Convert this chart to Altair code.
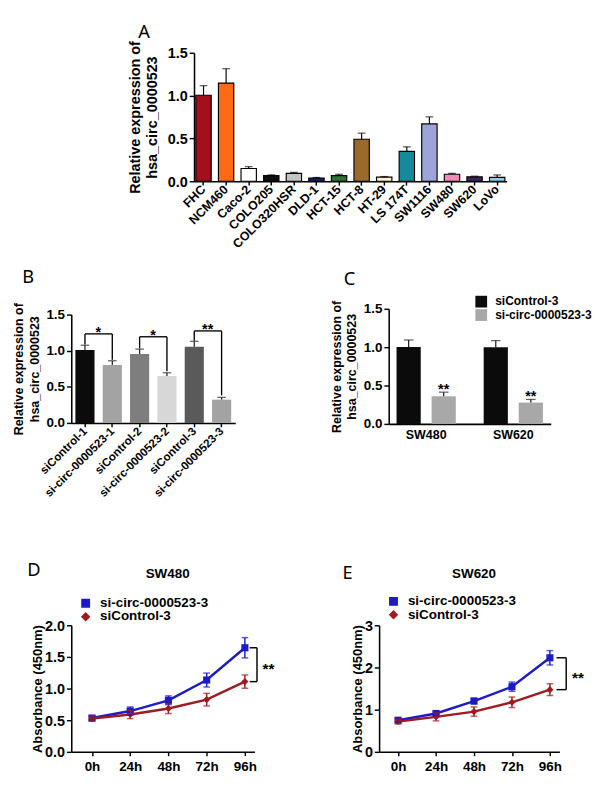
import altair as alt
import pandas as pd

FONT = "Liberation Sans"
LETTER_FONT = "Noto Sans"

# ---------------- Panel A ----------------
a_lines = ["FHC", "NCM460", "Caco-2", "COLO205", "COLO320HSR", "DLD-1", "HCT-15",
           "HCT-8", "HT-29", "LS 174T", "SW1116", "SW480", "SW620", "LoVo"]
a_mean = [1.005, 1.146, 0.149, 0.067, 0.093, 0.037, 0.067, 0.491, 0.048, 0.350, 0.670, 0.082, 0.052, 0.045]
a_err = [0.111, 0.168, 0.022, 0.008, 0.011, 0.008, 0.015, 0.071, 0.008, 0.052, 0.082, 0.011, 0.008, 0.029]
a_colors = ["#A30F1A", "#FF6A12", "#FFFFFF", "#0E0E0E", "#C4C4C4", "#1D1B6B", "#2F7434",
            "#9A6A2B", "#FFF2C4", "#168A9C", "#9EA3DA", "#F28BB8", "#3F2460", "#8DCDEB"]

# ---------------- Panel B ----------------
b_groups = ["siControl-1", "si-circ-0000523-1", "siControl-2", "si-circ-0000523-2",
            "siControl-3", "si-circ-0000523-3"]
b_mean = [1.009, 0.803, 0.955, 0.650, 1.054, 0.323]
b_err = [0.067, 0.058, 0.067, 0.045, 0.076, 0.031]
b_colors = ["#0B0B0B", "#A3A3A3", "#7E7E7E", "#D7D7D7", "#5A5A5A", "#A3A3A3"]
b_pair_left = ["siControl-1", "siControl-2", "siControl-3"]
b_pair_right = ["si-circ-0000523-1", "si-circ-0000523-2", "si-circ-0000523-3"]
b_bracket_level = [1.233, 1.193, 1.274]
b_bracket_left_end = [1.085, 1.031, 1.139]
b_bracket_right_end = [0.874, 0.717, 0.381]
b_marks = ["*", "*", "**"]

# ---------------- Panel C ----------------
c_lines = ["SW480", "SW620"]
c_groups = ["siControl-3", "si-circ-0000523-3"]
c_colors = ["#0B0B0B", "#A8A8A8"]
c_ctrl_mean = [1.003, 1.000]
c_ctrl_err = [0.091, 0.086]
c_si_mean = [0.360, 0.278]
c_si_err = [0.054, 0.041]
c_marks = ["**", "**"]

# ---------------- Panels D, E ----------------
times = [0, 24, 48, 72, 96]
series = ["si-circ-0000523-3", "siControl-3"]
series_colors = ["#1B1BC9", "#9E1B1E"]
series_shapes = ["square", "diamond"]
d_si_mean = [0.535, 0.645, 0.815, 1.135, 1.645]
d_si_err = [0.03, 0.065, 0.07, 0.11, 0.16]
d_ctrl_mean = [0.525, 0.59, 0.685, 0.825, 1.11]
d_ctrl_err = [0.04, 0.065, 0.08, 0.10, 0.105]
e_si_mean = [0.75, 0.91, 1.205, 1.545, 2.23]
e_si_err = [0.045, 0.05, 0.065, 0.11, 0.17]
e_ctrl_mean = [0.72, 0.83, 0.955, 1.175, 1.475]
e_ctrl_err = [0.06, 0.095, 0.11, 0.125, 0.14]

Y_TITLE = ["Relative expression of", "hsa_circ_0000523"]


def label_text(t, x, y, font=LETTER_FONT, size=19, weight="normal"):
    return alt.Chart(pd.DataFrame({"t": [t]})).mark_text(
        font=font, fontSize=size, fontWeight=weight, color="black",
        align="center", baseline="middle"
    ).encode(text="t:N", x=alt.value(x), y=alt.value(y))


def y_bar_axis(title_size, line_h, pad, label_size):
    return alt.Axis(values=[0, 0.5, 1, 1.5], format=".1f", title=Y_TITLE,
                    titleFontSize=title_size, titleLineHeight=line_h, labelFontSize=label_size,
                    tickSize=5, titlePadding=pad, labelOverlap=False)


def rot_axis(size):
    return alt.Axis(title=None, labelAngle=-45, labelAlign="right", labelBaseline="middle",
                    labelFontSize=size, tickSize=4, labelPadding=2, labelOverlap=False)


# ---------- A ----------
dfA = pd.DataFrame({"line": a_lines, "mean": a_mean,
                    "top": [m + e for m, e in zip(a_mean, a_err)], "color": a_colors})
xA_scale = alt.Scale(domain=a_lines, paddingInner=0.32, paddingOuter=0.08)
yA_scale = alt.Scale(domain=[0, 1.5], nice=False)
xA_axis = rot_axis(13)
yA_axis = y_bar_axis(15, 18, 8, 15)


def XA(f):
    return alt.X(f, scale=xA_scale, axis=xA_axis, title=None)


def YA(f):
    return alt.Y(f, scale=yA_scale, axis=yA_axis, title=Y_TITLE)


barsA = alt.Chart(dfA).mark_bar(stroke="black", strokeWidth=1.2).encode(
    x=XA("line:N"), y=YA("mean:Q"), color=alt.Color("color:N", scale=None))
errA = alt.Chart(dfA).mark_rule(color="black", strokeWidth=1.2).encode(
    x=XA("line:N"), y=YA("mean:Q"), y2="top:Q")
capA = alt.Chart(dfA).mark_tick(color="black", thickness=1.2, size=8, orient="horizontal").encode(
    x=XA("line:N"), y=YA("top:Q"))
panelA = alt.layer(barsA, errA, capA, label_text("A", -52, -21)).properties(width=326, height=134)

# ---------- B ----------
dfB = pd.DataFrame({"group": b_groups, "mean": b_mean,
                    "top": [m + e for m, e in zip(b_mean, b_err)], "color": b_colors})
xB_scale = alt.Scale(domain=b_groups, paddingInner=0.3, paddingOuter=0.15)
yB_scale = alt.Scale(domain=[0, 1.5], nice=False, range=[119, 6])
xB_axis = rot_axis(12)
yB_axis = y_bar_axis(13, 16, 5, 14)


def XB(f):
    return alt.X(f, scale=xB_scale, axis=xB_axis, title=None)


def YB(f):
    return alt.Y(f, scale=yB_scale, axis=yB_axis, title=Y_TITLE)


barsB = alt.Chart(dfB).mark_bar().encode(x=XB("group:N"), y=YB("mean:Q"),
                                         color=alt.Color("color:N", scale=None))
errB = alt.Chart(dfB).mark_rule(color="#222222", strokeWidth=1.3).encode(
    x=XB("group:N"), y=YB("mean:Q"), y2="top:Q")
capB = alt.Chart(dfB).mark_tick(color="#222222", thickness=1.3, size=9, orient="horizontal").encode(
    x=XB("group:N"), y=YB("top:Q"))
dfBr = pd.DataFrame({"left": b_pair_left, "right": b_pair_right, "level": b_bracket_level,
                     "lend": b_bracket_left_end, "rend": b_bracket_right_end, "mark": b_marks})
brH = alt.Chart(dfBr).mark_rule(color="black", strokeWidth=1.4).encode(
    x=XB("left:N"), x2="right:N", y=YB("level:Q"))
brL = alt.Chart(dfBr).mark_rule(color="black", strokeWidth=1.4).encode(
    x=XB("left:N"), y=YB("lend:Q"), y2="level:Q")
brR = alt.Chart(dfBr).mark_rule(color="black", strokeWidth=1.4).encode(
    x=XB("right:N"), y=YB("rend:Q"), y2="level:Q")
starB = alt.Chart(dfBr).mark_text(font=FONT, fontWeight="bold", fontSize=15, dx=14, dy=3,
                                  baseline="alphabetic", color="black").encode(
    x=XB("left:N"), y=YB("level:Q"), text="mark:N")
panelB = alt.layer(barsB, errB, capB, brH, brL, brR, starB, label_text("B", -45, -33)).properties(
    width=171, height=119)

# ---------- C ----------
dfC = pd.DataFrame({"line": c_lines * 2,
                    "group": [c_groups[0]] * 2 + [c_groups[1]] * 2,
                    "mean": c_ctrl_mean + c_si_mean,
                    "err": c_ctrl_err + c_si_err})
dfC["top"] = dfC["mean"] + dfC["err"]
dfC["mark"] = ["", ""] + c_marks
xC_scale = alt.Scale(domain=c_lines, paddingInner=0.32, paddingOuter=0.09)
yC_scale = alt.Scale(domain=[0, 1.5], nice=False)
xC_axis = alt.Axis(title=None, labelAngle=0, labelFontSize=13, ticks=False, labelPadding=5)
yC_axis = y_bar_axis(13, 16, 5, 14)


def XC(f):
    return alt.X(f, scale=xC_scale, axis=xC_axis, title=None)


def YC(f):
    return alt.Y(f, scale=yC_scale, axis=yC_axis, title=Y_TITLE)


xoC = alt.XOffset("group:N", scale=alt.Scale(domain=c_groups, paddingInner=0.31, paddingOuter=0))
colorC = alt.Color("group:N", scale=alt.Scale(domain=c_groups, range=c_colors),
                   legend=alt.Legend(title=None, orient="none", legendX=90, legendY=-14,
                                     symbolType="square", symbolSize=150, symbolStrokeWidth=0,
                                     labelFontSize=12.5, rowPadding=1, labelOffset=8))
barsC = alt.Chart(dfC).mark_bar().encode(x=XC("line:N"), xOffset=xoC, y=YC("mean:Q"), color=colorC)
errC = alt.Chart(dfC).mark_rule(color="#222222", strokeWidth=1.3).encode(
    x=XC("line:N"), xOffset=xoC, y=YC("mean:Q"), y2="top:Q")
capC = alt.Chart(dfC).mark_tick(color="#222222", thickness=1.3, size=10, orient="horizontal").encode(
    x=XC("line:N"), xOffset=xoC, y=YC("top:Q"))
starC = alt.Chart(dfC).mark_text(font=FONT, fontWeight="bold", fontSize=15, dy=2,
                                 baseline="alphabetic", color="black").encode(
    x=XC("line:N"), xOffset=xoC, y=YC("top:Q"), text="mark:N")
panelC = alt.layer(barsC, errC, capC, starC, label_text("C", -41, -31)).properties(
    width=169, height=120)


# ---------- D / E ----------
def growth(si_mean, si_err, ctrl_mean, ctrl_err, ymax, yvals, yfmt, xdomain, w, h,
           title, letter_t, letter_xy, bracket_x, star_x, legend_xy):
    df = pd.DataFrame({"time": times * 2,
                       "series": [series[0]] * 5 + [series[1]] * 5,
                       "mean": si_mean + ctrl_mean,
                       "err": si_err + ctrl_err})
    df["lo"] = df["mean"] - df["err"]
    df["hi"] = df["mean"] + df["err"]
    xs = alt.Scale(domain=xdomain, nice=False, zero=False)
    ys = alt.Scale(domain=[0, ymax], nice=False)
    x_axis = alt.Axis(values=times, labelExpr="datum.value + 'h'", labelFontSize=14,
                      tickSize=4, labelPadding=4, labelOverlap=False, title=None)
    y_axis = alt.Axis(values=yvals, format=yfmt, title="Absorbance (450nm)",
                      titleFontSize=13.5, labelFontSize=15, tickSize=5, titlePadding=0,
                      labelOverlap=False)

    def X(f):
        return alt.X(f, scale=xs, axis=x_axis, title=None)

    def Y(f):
        return alt.Y(f, scale=ys, axis=y_axis, title="Absorbance (450nm)")

    cscale = alt.Scale(domain=series, range=series_colors)
    leg = alt.Legend(title=None, orient="none", legendX=legend_xy[0], legendY=legend_xy[1],
                     labelFontSize=14, symbolSize=60, rowPadding=0, labelOffset=8)
    col_leg = alt.Color("series:N", scale=cscale, legend=leg)
    shp = alt.Shape("series:N", scale=alt.Scale(domain=series, range=series_shapes), legend=leg)
    strk = alt.Stroke("series:N", scale=cscale, legend=None)
    fll = alt.Fill("series:N", scale=cscale, legend=None)
    base = alt.Chart(df)
    pts = base.mark_point(filled=True, size=55, opacity=1).encode(
        x=X("time:Q"), y=Y("mean:Q"), color=col_leg, shape=shp)
    line = base.mark_line(strokeWidth=2.5).encode(x=X("time:Q"), y=Y("mean:Q"), stroke=strk)
    err = base.mark_rule(strokeWidth=1.5).encode(
        x=X("time:Q"), y=Y("lo:Q"), y2="hi:Q", stroke=strk)
    cap_hi = base.mark_tick(thickness=1.5, size=7, orient="horizontal").encode(
        x=X("time:Q"), y=Y("hi:Q"), fill=fll)
    cap_lo = base.mark_tick(thickness=1.5, size=7, orient="horizontal").encode(
        x=X("time:Q"), y=Y("lo:Q"), fill=fll)
    br = pd.DataFrame({"x1": [bracket_x[0]], "x2": [bracket_x[1]],
                       "top": [si_mean[-1]], "bot": [ctrl_mean[-1]],
                       "mid": [(si_mean[-1] + ctrl_mean[-1]) / 2],
                       "sx": [star_x], "mark": ["**"]})
    bb = alt.Chart(br)
    br_top = bb.mark_rule(color="black", strokeWidth=1.5).encode(
        x=X("x1:Q"), x2="x2:Q", y=Y("top:Q"))
    br_bot = bb.mark_rule(color="black", strokeWidth=1.5).encode(
        x=X("x1:Q"), x2="x2:Q", y=Y("bot:Q"))
    br_v = bb.mark_rule(color="black", strokeWidth=1.5).encode(
        x=X("x2:Q"), y=Y("bot:Q"), y2="top:Q")
    star = bb.mark_text(font=FONT, fontWeight="bold", fontSize=16, align="left",
                        baseline="middle", dy=5, color="black").encode(
        x=X("sx:Q"), y=Y("mid:Q"), text="mark:N")
    return alt.layer(pts, line, err, cap_hi, cap_lo, br_top, br_bot, br_v, star,
                     label_text(letter_t, letter_xy[0], letter_xy[1]),
                     label_text(title, w / 2 + 5, -53, font=FONT, size=14, weight="bold")
                     ).properties(width=w, height=h)


panelD = growth(d_si_mean, d_si_err, d_ctrl_mean, d_ctrl_err, 2, [0, 0.5, 1, 1.5, 2], ".1f",
                [-13, 102], 191, 132, "SW480", "D", (-39, -57), (99, 103.6), 107, (8, -30))
panelE = growth(e_si_mean, e_si_err, e_ctrl_mean, e_ctrl_err, 3, [0, 1, 2, 3], "d",
                [-12, 102], 188, 132, "SW620", "E", (-33, -54), (100.2, 106.3), 110, (8, -32))

spacer = alt.Chart(pd.DataFrame({"v": [0]})).mark_point(opacity=0).encode(
    x=alt.value(0), y=alt.value(0)).properties(width=48, height=10)

indep = dict(color="independent", shape="independent", stroke="independent", fill="independent")
row1 = alt.hconcat(spacer, panelA, spacing=11).resolve_scale(**indep)
row2 = alt.hconcat(panelB, panelC, spacing=99).resolve_scale(**indep)
row3 = alt.hconcat(panelD, panelE, spacing=70).resolve_scale(**indep)
lower = alt.vconcat(row2, row3, spacing=66).resolve_scale(**indep)

chart = alt.vconcat(row1, lower, spacing=18).resolve_scale(**indep).properties(
    padding={"left": 5, "top": 0, "right": 0, "bottom": 0}
).configure_view(stroke=None).configure_axis(
    labelFont=FONT, titleFont=FONT, labelFontWeight="bold", titleFontWeight="bold",
    labelColor="black", titleColor="black", domainColor="black", tickColor="black",
    domainWidth=1.6, tickWidth=1.5, grid=False, labelOverlap=False
).configure_legend(
    labelFont=FONT, labelFontWeight="bold", labelColor="black"
).configure_title(font=FONT, fontWeight="bold", color="black")

chart.save("out.html", embed_options={"renderer": "svg", "actions": False})
